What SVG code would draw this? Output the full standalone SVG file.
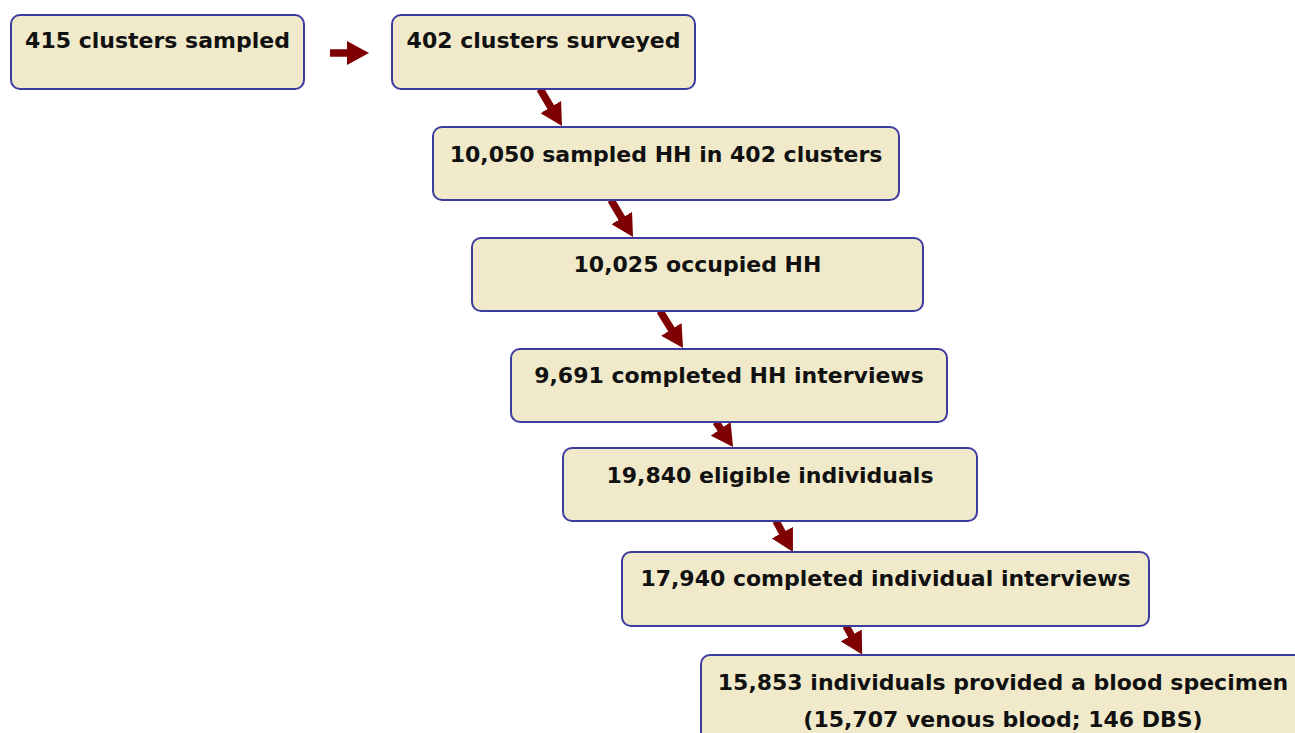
<svg xmlns="http://www.w3.org/2000/svg" width="1295" height="733" viewBox="0 0 1295 733">
<style>
.box{fill:#f0eacb;stroke:#3c3ca0;stroke-width:2}
.t{font-family:"DejaVu Sans","Liberation Sans",sans-serif;font-weight:bold;font-size:22px;fill:#111;text-anchor:middle}
.arr{stroke:#7f0000;stroke-width:7.5;fill:none}
</style>
<defs>
<marker id="ah" markerUnits="userSpaceOnUse" viewBox="0 0 22 24" refX="4" refY="12" markerWidth="22" markerHeight="24" orient="auto">
<path d="M0,0 L22,12 L0,24 z" fill="#7f0000"/>
</marker>
</defs>
<rect width="1295" height="733" fill="#fff"/>
<g id="connectors">
<line class="arr" x1="330" y1="53" x2="351" y2="53" marker-end="url(#ah)"/>
<line class="arr" x1="540" y1="89" x2="552.8" y2="110.5" marker-end="url(#ah)"/>
<line class="arr" x1="611" y1="200" x2="623.8" y2="221.5" marker-end="url(#ah)"/>
<line class="arr" x1="660" y1="311" x2="673.5" y2="332.7" marker-end="url(#ah)"/>
<line class="arr" x1="716" y1="422" x2="722.9" y2="432.1" marker-end="url(#ah)"/>
<line class="arr" x1="776" y1="521" x2="784.3" y2="536.2" marker-end="url(#ah)"/>
<line class="arr" x1="846" y1="626" x2="853.3" y2="638.9" marker-end="url(#ah)"/>
</g>
<g id="n1"><rect class="box" x="11" y="15" width="293" height="74" rx="9"/><text class="t" x="157.5" y="48">415 clusters sampled</text></g>
<g id="n2"><rect class="box" x="392" y="15" width="303" height="74" rx="9"/><text class="t" x="543.5" y="48">402 clusters surveyed</text></g>
<g id="n3"><rect class="box" x="433" y="127" width="466" height="73" rx="9"/><text class="t" x="666" y="162">10,050 sampled HH in 402 clusters</text></g>
<g id="n4"><rect class="box" x="472" y="238" width="451" height="73" rx="9"/><text class="t" x="697.5" y="272">10,025 occupied HH</text></g>
<g id="n5"><rect class="box" x="511" y="349" width="436" height="73" rx="9"/><text class="t" x="729" y="383">9,691 completed HH interviews</text></g>
<g id="n6"><rect class="box" x="563" y="448" width="414" height="73" rx="9"/><text class="t" x="770" y="483">19,840 eligible individuals</text></g>
<g id="n7"><rect class="box" x="622" y="552" width="527" height="74" rx="9"/><text class="t" x="885.5" y="586">17,940 completed individual interviews</text></g>
<g id="n8"><rect class="box" x="701" y="655" width="604" height="95" rx="9"/><text class="t" x="1003" y="690">15,853 individuals provided a blood specimen</text><text class="t" x="1003" y="727">(15,707 venous blood; 146 DBS)</text></g>
</svg>
